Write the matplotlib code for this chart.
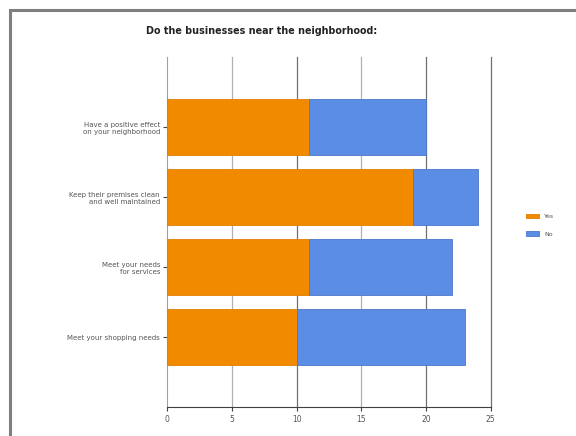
import numpy as np
import matplotlib.pyplot as plt
from matplotlib.patches import Rectangle

# Data
categories = ["Have a positive effect\non your neighborhood",
              "Keep their premises clean\nand well maintained",
              "Meet your needs\nfor services",
              "Meet your shopping needs"]
yes = [11, 19, 11, 10]
no = [9, 5, 11, 13]
xticks = [0, 5, 10, 15, 20, 25]

fig = plt.figure(figsize=(5.76, 4.36), dpi=100)
ax = fig.add_axes([0.290, 0.0665, 0.562, 0.8025])

# outer frame (left/top visible)
fig.patches.append(Rectangle((9.5 / 576, -0.1), 1.2, 1.1 - 10.5 / 436,
                             transform=fig.transFigure, fill=False,
                             edgecolor='#7f7f7f', linewidth=2.2))

pos = np.arange(len(categories))[::-1]
ax.barh(pos, yes, height=0.8, color='#F28A00', edgecolor='#E07E00', linewidth=0.6, label='Yes', zorder=3)
ax.barh(pos, no, left=yes, height=0.8, color='#5B8DE4', edgecolor='#4A78CC', linewidth=0.6, label='No', zorder=3)

ax.set_xlim(0, 25)
ax.set_ylim(-1, 4)

for x in xticks[1:]:
    col = '#b0b0b0' if x in (5, 15) else '#707070'
    ax.axvline(x, color=col, linewidth=0.9, zorder=1, clip_on=False)

for s in ['top', 'right']:
    ax.spines[s].set_visible(False)
ax.spines['left'].set_color('#a0a0a0')
ax.spines['bottom'].set_color('#404040')
ax.spines['left'].set_linewidth(0.8)

ax.set_xticks(xticks)
ax.set_xticklabels([str(v) for v in xticks], fontsize=5.5, color='#555555')
ax.set_yticks(pos)
ax.set_yticklabels(categories, fontsize=5, color='#555555', linespacing=1.3)
ax.tick_params(axis='x', length=3, width=0.8, color='#404040', pad=3)
ax.tick_params(axis='y', length=3, width=0.8, color='#404040', pad=2)

fig.text(0.455, 0.930, "Do the businesses near the neighborhood:", fontsize=6.9,
         fontweight='bold', ha='center', va='center', color='#222222')

ax.legend(loc='center left', bbox_to_anchor=(1.09, 0.52), frameon=False,
          fontsize=4.5, handlelength=2.2, handleheight=0.8, labelspacing=1.9,
          labelcolor='#555555')

fig.savefig("out.png", dpi=100)
